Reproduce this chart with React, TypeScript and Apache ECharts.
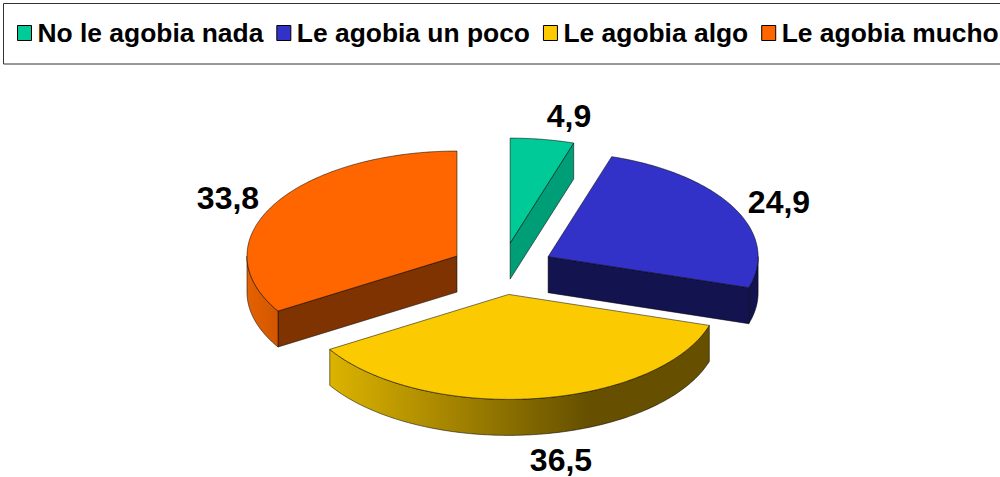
import React, { useEffect, useRef } from "react";
import * as echarts from "echarts";

const CATEGORIES = ["No le agobia nada", "Le agobia un poco", "Le agobia algo", "Le agobia mucho"];
const VALUES = [4.9, 24.9, 36.5, 33.8];
const LABELS = ["4,9", "24,9", "36,5", "33,8"];

const TOP_COLORS = ["#00CA98", "#3232C8", "#FBCA00", "#FF6600"];
const EDGE_COLORS = ["#009E76", "#13134F", "#665000", "#7F3300"];
const WALL_STOPS: [number, string][][] = [
  [[0, "#009E76"], [1, "#009E76"]],
  [[0, "#13134F"], [1, "#13134F"]],
  [[0, "#DCB300"], [0.68, "#665000"], [1, "#665000"]],
  [[0, "#E46200"], [1, "#D25600"]],
];
const LABEL_POS = [[569, 116], [779, 202], [561, 460], [228, 198]];

const CX = 502.2, CY = 268.7, RX = 210, RY = 105, DEPTH = 36, EXPLODE = 0.2467;
const FONT = '"Liberation Sans", Arial, sans-serif';
const TOTAL = VALUES.reduce((a, b) => a + b, 0);
const rad = (d: number) => (d * Math.PI) / 180;

function angleSpan(i: number) {
  let start = 0;
  for (let k = 0; k < i; k++) start += (VALUES[k] / TOTAL) * 360;
  return [start, start + (VALUES[i] / TOTAL) * 360];
}

function renderSlice(i: number) {
  return (_params: any, api: any) => {
    const value = api.value(0);
    const [a0] = angleSpan(i);
    const a1 = a0 + (value / TOTAL) * 360;
    const mid = (a0 + a1) / 2;
    const ax = CX + Math.sin(rad(mid)) * RX * EXPLODE;
    const ay = CY - Math.cos(rad(mid)) * RY * EXPLODE;
    const pt = (a: number, dy = 0) => [ax + Math.sin(rad(a)) * RX, ay - Math.cos(rad(a)) * RY + dy];
    const arc = (from: number, to: number, dy = 0) => {
      const n = Math.max(2, Math.ceil(Math.abs(to - from)));
      const out: number[][] = [];
      for (let k = 0; k <= n; k++) out.push(pt(from + ((to - from) * k) / n, dy));
      return out;
    };
    const stroke = { stroke: "rgba(0,0,0,0.75)", lineWidth: 0.7 };
    const children: any[] = [];
    const apex = [ax, ay], apexLow = [ax, ay + DEPTH];
    const edgeWall = (a: number) => ({
      type: "polygon",
      shape: { points: [apex, pt(a), pt(a, DEPTH), apexLow] },
      style: { fill: EDGE_COLORS[i], ...stroke },
    });
    if (Math.sin(rad(a0)) < -1e-6) children.push(edgeWall(a0));
    if (Math.sin(rad(a1)) > 1e-6) children.push(edgeWall(a1));
    const w0 = Math.max(a0, 90), w1 = Math.min(a1, 270);
    if (w1 > w0) {
      children.push({
        type: "polygon",
        shape: { points: [...arc(w0, w1), ...arc(w1, w0, DEPTH)] },
        style: {
          fill: new echarts.graphic.LinearGradient(0, 0, 1, 0,
            WALL_STOPS[i].map(([offset, color]) => ({ offset, color }))),
          ...stroke,
        },
      });
    }
    children.push({
      type: "polygon",
      shape: { points: [apex, ...arc(a0, a1)] },
      style: { fill: TOP_COLORS[i], ...stroke },
    });
    children.push({
      type: "text",
      style: {
        text: LABELS[i], x: LABEL_POS[i][0], y: LABEL_POS[i][1],
        align: "center", verticalAlign: "middle",
        font: `bold 32px ${FONT}`, fill: "#000",
      },
    });
    return { type: "group", children };
  };
}

export default function App() {
  const ref = useRef<HTMLDivElement>(null);
  useEffect(() => {
    document.body.style.margin = "0";
    const chart = echarts.init(ref.current!, undefined, { renderer: "svg" });
    chart.setOption({
      animation: false,
      backgroundColor: "#fff",
      legend: {
        left: 17, top: 20, padding: 0, itemGap: 13, itemWidth: 14, itemHeight: 15,
        icon: "rect", selectedMode: false,
        data: CATEGORIES,
        itemStyle: { borderColor: "#000", borderWidth: 1 },
        textStyle: { fontFamily: FONT, fontWeight: "bold", fontSize: 26.4, color: "#000", padding: [0, 0, 0, 1] },
      },
      graphic: [{
        type: "rect", silent: true, z: -1,
        shape: { x: 3.5, y: 3.5, width: 1010, height: 60.5 },
        style: { fill: "#fff", stroke: "#333", lineWidth: 1 },
      }],
      series: CATEGORIES.map((name, i) => ({
        type: "custom", name, coordinateSystem: "none", silent: true,
        itemStyle: { color: TOP_COLORS[i] },
        data: [[VALUES[i]]],
        renderItem: renderSlice(i),
      })),
    });
    return () => chart.dispose();
  }, []);
  return <div ref={ref} style={{ width: 1000, height: 477 }} />;
}
